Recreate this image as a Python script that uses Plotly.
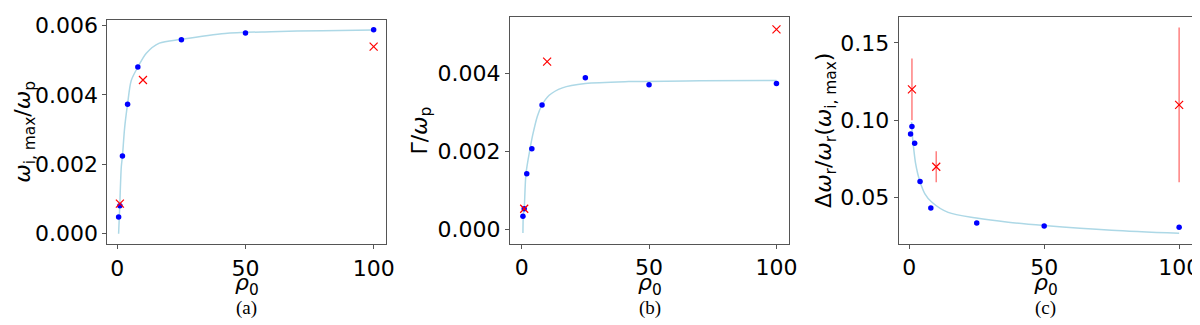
import plotly.graph_objects as go

# simulation points (blue dots)
rho_sim = [0.5, 1, 2, 4, 8, 25, 50, 100]
wi_sim = [0.00048, 0.00081, 0.00224, 0.00373, 0.0048, 0.00559, 0.00578, 0.00588]
gamma_sim = [0.00033, 0.00052, 0.00142, 0.00206, 0.00318, 0.00388, 0.0037, 0.00373]
dw_sim = [0.0912, 0.096, 0.0851, 0.0605, 0.0433, 0.0336, 0.0317, 0.0309]

# experiment points (red crosses)
rho_exp = [1, 10, 100]
wi_exp = [0.00087, 0.00443, 0.00539]
gamma_exp = [0.00052, 0.00429, 0.00512]
dw_exp = [0.12, 0.07, 0.11]
dw_exp_err = [0.02, 0.01, 0.05]

# fitted curves
rho_fit_a = [0.5, 0.9, 1.55, 2, 2.85, 4, 5.4, 8, 11.3, 16.4, 25, 42, 60, 80, 100]
wi_fit = [0.0, 0.00071, 0.00193, 0.00224, 0.00305, 0.00374, 0.00441, 0.0048,
          0.0052, 0.00549, 0.0056, 0.00577, 0.00582, 0.00585, 0.00587]
rho_fit_b = [0.5, 0.66, 1, 1.7, 3.3, 4.3, 6.2, 8, 10.8, 16, 25, 42, 70, 100]
gamma_fit = [-0.0001, 0.00035, 0.00052, 0.00142, 0.00206, 0.0024, 0.0029, 0.00318,
             0.00343, 0.00362, 0.00373, 0.00378, 0.0038, 0.00381]
rho_fit_c = [0.86, 1.23, 1.73, 2.35, 3.1, 3.95, 5.8, 8.3, 14.4, 24.9, 36.7, 50, 75, 100]
dw_fit = [0.0989, 0.0888, 0.0805, 0.0721, 0.0658, 0.0605, 0.0525, 0.0472, 0.0405,
          0.0369, 0.0342, 0.0321, 0.029, 0.027]

x_ticks = [0, 50, 100]
captions = ['(a)', '(b)', '(c)']
xtitle = '<i>ρ</i><sub>0</sub>'
ytitles = ['<i>ω</i><sub>i, max</sub>/<i>ω</i><sub>p</sub>',
           'Γ/<i>ω</i><sub>p</sub>',
           'Δ<i>ω</i><sub>r</sub>/<i>ω</i><sub>r</sub>(<i>ω</i><sub>i, max</sub>)']

W, H = 1200, 325
FONT = 'DejaVu Sans'
CURVE = '#add8e6'

fig = go.Figure()

panels = [
    ('x', 'y', rho_fit_a, wi_fit, wi_sim, wi_exp, None),
    ('x2', 'y2', rho_fit_b, gamma_fit, gamma_sim, gamma_exp, None),
    ('x3', 'y3', rho_fit_c, dw_fit, dw_sim, dw_exp, dw_exp_err),
]

for xa, ya, fx, fy, sim, exp, err in panels:
    fig.add_trace(go.Scatter(x=fx, y=fy, mode='lines', xaxis=xa, yaxis=ya,
                             line=dict(color=CURVE, width=1.5, shape='spline', smoothing=0.8),
                             showlegend=False))
    fig.add_trace(go.Scatter(x=rho_sim, y=sim, mode='markers', xaxis=xa, yaxis=ya,
                             marker=dict(color='#0000ff', size=5.5),
                             showlegend=False))
    ex = None
    if err:
        ex = dict(type='data', array=err, visible=True, color='rgba(255,0,0,0.5)',
                  thickness=1.5, width=0)
    fig.add_trace(go.Scatter(x=rho_exp, y=exp, mode='markers', xaxis=xa, yaxis=ya,
                             error_y=ex,
                             marker=dict(symbol='x-thin', size=8, color='#ff0000',
                                         line=dict(color='#ff0000', width=1.2)),
                             showlegend=False))

def px_x(v):
    return v / W

def px_y(v):
    return 1 - v / H

axis_common = dict(showline=True, mirror=True, linecolor='#555555', linewidth=1,
                   ticks='outside', ticklen=4, tickcolor='#555555', showgrid=False,
                   zeroline=False, ticklabeloverflow='allow',
                   tickfont=dict(family=FONT, size=22, color='black'))

boxes = [(100, 381, 5.7, 236), (505.3, 786.7, 3.3, 235.3), (896.7, 1192.3, 3.3, 235.3)]
xranges = [[-3.9, 105], [-4.6, 105.1], [-3.9, 104.9]]
yranges = [[-0.0003, 0.00617], [-0.00037, 0.00543], [0.0204, 0.1666]]
ytick_vals = [[0, 0.002, 0.004, 0.006], [0, 0.002, 0.004], [0.05, 0.10, 0.15]]
ytick_text = [['0.000', '0.002', '0.004', '0.006'], ['0.000', '0.002', '0.004'],
              ['0.05', '0.10', '0.15']]
ytitle_x = [17, 416, 823]

layout = dict(width=W, height=H, margin=dict(l=0, r=0, t=0, b=0),
              paper_bgcolor='white', plot_bgcolor='white',
              font=dict(family=FONT, color='black'))

for i in range(3):
    sfx = '' if i == 0 else str(i + 1)
    x0, x1, y0, y1 = boxes[i]
    layout['xaxis' + sfx] = dict(axis_common, domain=[px_x(x0), px_x(x1)], range=xranges[i],
                                 tickvals=x_ticks, anchor='y' + sfx, ticklabelstandoff=0)
    layout['yaxis' + sfx] = dict(axis_common, domain=[px_y(y1), px_y(y0)], range=yranges[i],
                                 tickvals=ytick_vals[i], ticktext=ytick_text[i],
                                 anchor='x' + sfx, ticklabelstandoff=0)

fig.update_layout(**layout)

for i in range(3):
    x0, x1, y0, y1 = boxes[i]
    fig.add_annotation(text=xtitle, xref='paper', yref='paper', x=px_x((x0 + x1) / 2),
                       y=px_y(277), showarrow=False, xanchor='center', yanchor='middle',
                       font=dict(family=FONT, size=22, color='black'))
    fig.add_annotation(text=ytitles[i], xref='paper', yref='paper', x=px_x(ytitle_x[i]),
                       y=px_y((y0 + y1) / 2), showarrow=False, textangle=-90,
                       xanchor='center', yanchor='middle',
                       font=dict(family=FONT, size=22, color='black'))
    fig.add_annotation(text=captions[i], xref='paper', yref='paper', x=px_x((x0 + x1) / 2),
                       y=px_y(301), showarrow=False, xanchor='center', yanchor='middle',
                       font=dict(family='Liberation Serif', size=19, color='black'))

fig.write_html('out.html')
